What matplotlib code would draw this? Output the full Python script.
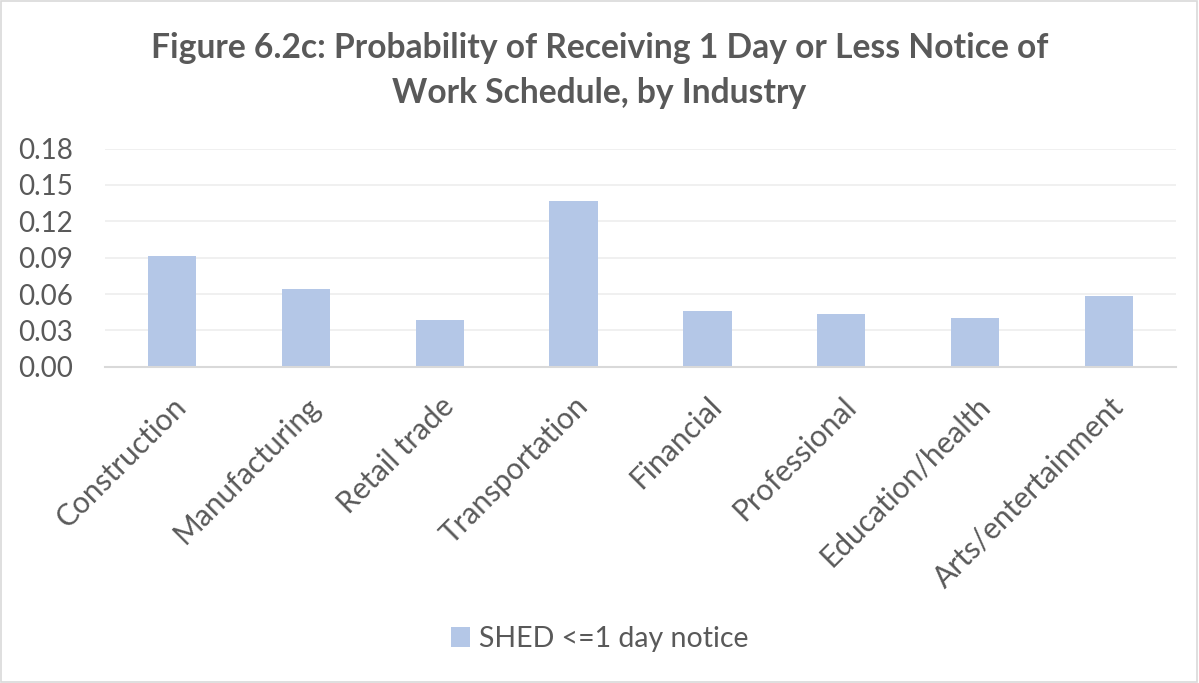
import matplotlib
matplotlib.use("Agg")
import matplotlib.pyplot as plt
import numpy as np
from matplotlib.patches import Rectangle

plt.rcParams["font.family"] = ["Lato", "DejaVu Sans"]

industries = ["Construction", "Manufacturing", "Retail trade", "Transportation",
              "Financial", "Professional", "Education/health", "Arts/entertainment"]
shed_1day = [0.091, 0.064, 0.0385, 0.1365, 0.0457, 0.0434, 0.040, 0.0585]
yticks = [0.00, 0.03, 0.06, 0.09, 0.12, 0.15, 0.18]

TXT = "#595959"
BAR = "#b4c7e7"

fig = plt.figure(figsize=(11.99, 6.83), dpi=100)
ax = fig.add_axes([0.0876, 0.4631, 0.8932, 0.3193])

x = np.arange(len(industries))
ax.bar(x, shed_1day, width=0.36, color=BAR, label="SHED <=1 day notice", zorder=2)

ax.set_xlim(-0.5, len(industries) - 0.5)
ax.set_ylim(0, 0.18)
ax.set_yticks(yticks)
ax.set_yticklabels([f"{v:.2f}" for v in yticks], fontsize=20, color=TXT)
ax.set_xticks(x)
ax.set_xticklabels(industries, rotation=45, ha="right", va="top",
                   rotation_mode="anchor", fontsize=21.5, color=TXT)
ax.tick_params(axis="y", length=0, pad=23)
ax.tick_params(axis="x", length=0, pad=18)
ax.grid(axis="y", color="#efefef", linewidth=1.3, zorder=0)
for s in ("top", "right", "left"):
    ax.spines[s].set_visible(False)
ax.spines["bottom"].set_color("#d9d9d9")
ax.spines["bottom"].set_linewidth(1.5)

fig.text(0.5, 0.897, "Figure 6.2c: Probability of Receiving 1 Day or Less Notice of\nWork Schedule, by Industry",
         ha="center", va="center", fontsize=24.2, fontweight="bold", color=TXT, linespacing=1.5)

fig.legend(loc="center", bbox_to_anchor=(0.5, 0.064), frameon=False, fontsize=20.5,
           handlelength=0.7, handleheight=0.7, handletextpad=0.3, labelcolor=TXT)

fig.patches.append(Rectangle((0.001, 0.001), 0.997, 0.997, transform=fig.transFigure,
                             fill=False, edgecolor="#d9d9d9", linewidth=1.2))

fig.savefig("out.png", dpi=100)
